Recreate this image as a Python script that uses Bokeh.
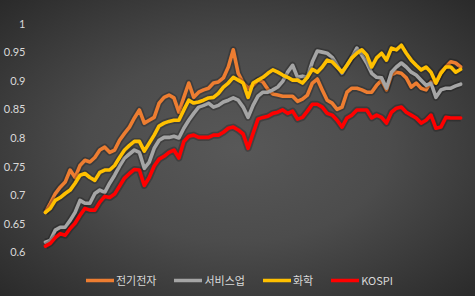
from bokeh.plotting import figure
from bokeh.models import Legend, LegendItem, FixedTicker, Range1d, ColumnDataSource
from bokeh.embed import file_html
from bokeh.resources import INLINE

names = ["전기전자", "서비스업", "화학", "KOSPI"]
colors = ["#ED7D31", "#A5A5A5", "#FFC000", "#FF0000"]

elec = [0.670, 0.686, 0.703, 0.714, 0.723, 0.744, 0.731, 0.752, 0.761, 0.758,
        0.766, 0.779, 0.784, 0.775, 0.779, 0.796, 0.808, 0.819, 0.835, 0.849,
        0.826, 0.831, 0.836, 0.861, 0.871, 0.875, 0.870, 0.845, 0.871, 0.896,
        0.871, 0.880, 0.884, 0.887, 0.896, 0.898, 0.905, 0.924, 0.954, 0.913,
        0.896, 0.887, 0.892, 0.901, 0.898, 0.885, 0.877, 0.875, 0.873, 0.873,
        0.873, 0.864, 0.868, 0.875, 0.896, 0.903, 0.884, 0.866, 0.861, 0.850,
        0.854, 0.880, 0.887, 0.887, 0.884, 0.880, 0.880, 0.892, 0.901, 0.884,
        0.910, 0.915, 0.913, 0.905, 0.889, 0.896, 0.887, 0.884, 0.898, 0.896,
        0.915, 0.924, 0.933, 0.931, 0.924]

serv = [0.618, 0.621, 0.639, 0.644, 0.644, 0.656, 0.670, 0.691, 0.686, 0.686,
        0.703, 0.709, 0.705, 0.721, 0.735, 0.751, 0.765, 0.772, 0.779, 0.775,
        0.747, 0.758, 0.782, 0.796, 0.801, 0.801, 0.803, 0.800, 0.817, 0.831,
        0.843, 0.854, 0.857, 0.861, 0.854, 0.857, 0.863, 0.866, 0.870, 0.866,
        0.854, 0.836, 0.857, 0.873, 0.880, 0.880, 0.884, 0.889, 0.899, 0.915,
        0.927, 0.906, 0.908, 0.906, 0.933, 0.952, 0.950, 0.948, 0.941, 0.927,
        0.913, 0.927, 0.941, 0.957, 0.945, 0.931, 0.913, 0.906, 0.905, 0.887,
        0.915, 0.924, 0.931, 0.924, 0.915, 0.910, 0.901, 0.892, 0.896, 0.871,
        0.884, 0.887, 0.887, 0.891, 0.894]

chem = [0.670, 0.677, 0.691, 0.696, 0.703, 0.709, 0.721, 0.735, 0.738, 0.731,
        0.726, 0.740, 0.744, 0.744, 0.752, 0.766, 0.779, 0.787, 0.794, 0.794,
        0.777, 0.791, 0.805, 0.821, 0.826, 0.829, 0.831, 0.831, 0.849, 0.866,
        0.861, 0.863, 0.866, 0.870, 0.871, 0.878, 0.889, 0.896, 0.906, 0.901,
        0.896, 0.871, 0.896, 0.901, 0.906, 0.913, 0.919, 0.915, 0.910, 0.906,
        0.901, 0.901, 0.896, 0.906, 0.920, 0.915, 0.924, 0.936, 0.933, 0.924,
        0.915, 0.927, 0.940, 0.948, 0.954, 0.945, 0.924, 0.940, 0.948, 0.936,
        0.957, 0.954, 0.962, 0.948, 0.936, 0.927, 0.919, 0.924, 0.915, 0.896,
        0.913, 0.924, 0.924, 0.915, 0.920]

kospi = [0.611, 0.616, 0.626, 0.633, 0.630, 0.642, 0.651, 0.665, 0.677, 0.674,
         0.674, 0.688, 0.698, 0.696, 0.702, 0.716, 0.730, 0.738, 0.745, 0.744,
         0.717, 0.731, 0.751, 0.763, 0.768, 0.775, 0.779, 0.765, 0.794, 0.803,
         0.805, 0.801, 0.801, 0.801, 0.805, 0.805, 0.810, 0.817, 0.819, 0.814,
         0.807, 0.782, 0.808, 0.833, 0.836, 0.838, 0.843, 0.845, 0.849, 0.843,
         0.847, 0.833, 0.836, 0.847, 0.859, 0.859, 0.854, 0.843, 0.840, 0.831,
         0.819, 0.835, 0.840, 0.849, 0.849, 0.849, 0.835, 0.840, 0.836, 0.826,
         0.845, 0.852, 0.854, 0.845, 0.840, 0.835, 0.826, 0.831, 0.840, 0.817,
         0.819, 0.836, 0.835, 0.835, 0.835]

y_ticks = [0.6, 0.65, 0.7, 0.75, 0.8, 0.85, 0.9, 0.95, 1.0]
tick_labels = {0.6: "0.6", 0.65: "0.65", 0.7: "0.7", 0.75: "0.75", 0.8: "0.8",
               0.85: "0.85", 0.9: "0.9", 0.95: "0.95", 1.0: "1"}

series = [elec, serv, chem, kospi]
idx = list(range(len(elec)))

W, H = 475, 296
p = figure(width=W, height=H, output_backend="svg", toolbar_location=None,
           min_border_left=33, min_border_right=0, min_border_top=23, min_border_bottom=0,
           x_range=Range1d(-1.4, 87.0), y_range=Range1d(0.5231, 1.0))
p.styles = {"background": "radial-gradient(ellipse at 50% 50%, #585858 0%, #4c4c4c 45%, #2a2a2a 100%)"}
p.background_fill_color = None
p.border_fill_color = None
p.outline_line_color = None
p.grid.visible = False
p.xaxis.visible = False

ya = p.yaxis[0]
ya.ticker = FixedTicker(ticks=y_ticks)
ya.major_label_overrides = tick_labels
ya.axis_line_color = None
ya.major_tick_line_color = None
ya.minor_tick_line_color = None
ya.major_label_text_color = "#d9d9d9"
ya.major_label_text_font = "Lato"
ya.major_label_text_font_size = "11px"
ya.major_label_standoff = 7

items = []
for name, col, ys in zip(names, colors, series):
    src = ColumnDataSource(dict(x=idx, y=ys))
    p.line("x", "y", source=src, line_color="black", line_alpha=0.22, line_width=7,
           line_join="round")
    r = p.line("x", "y", source=src, line_color=col, line_width=3.6, line_join="round",
               line_cap="round")
    items.append(LegendItem(label=name, renderers=[r]))

legend = Legend(items=items, orientation="horizontal", location=(48, 8),
                background_fill_alpha=0, border_line_color=None,
                label_text_color="#d9d9d9", label_text_font="Noto Sans CJK KR",
                label_text_font_size="11px", glyph_width=28, glyph_height=12,
                label_standoff=2, spacing=18, padding=0, margin=0)
p.add_layout(legend, "center")

open("out.html", "w").write(file_html(p, INLINE))
